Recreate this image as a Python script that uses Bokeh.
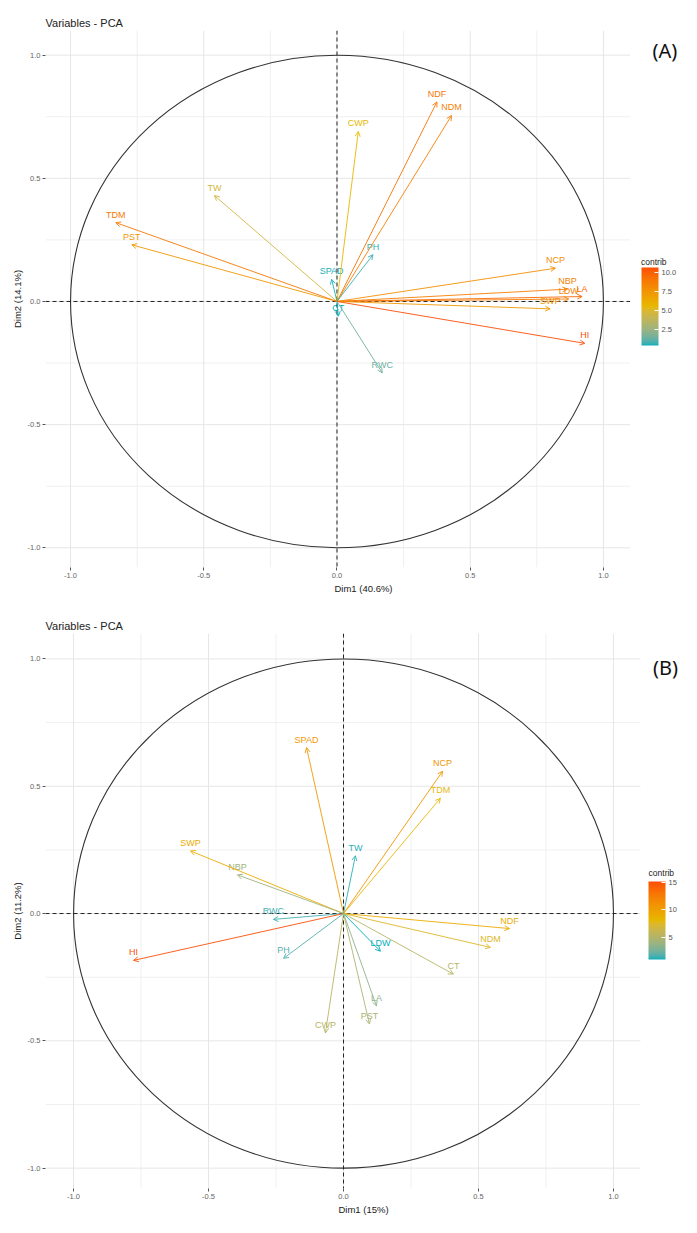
import math
from bokeh.plotting import figure
from bokeh.models import (ColumnDataSource, Span, Arrow, OpenHead, Label, ColorBar,
                          LinearColorMapper, FixedTicker, PrintfTickFormatter)
from bokeh.layouts import column
from bokeh.embed import file_html
from bokeh.resources import INLINE
from bokeh.core.properties import value

# ---------------- Data: panel (A) ----------------
vars_a = ["TW", "TDM", "PST", "SPAD", "CWP", "NDF", "NDM", "PH", "CT",
          "NCP", "NBP", "LA", "LDW", "SWP", "HI", "RWC"]
dim1_a = [-0.46, -0.83, -0.77, -0.02, 0.08, 0.375, 0.43, 0.135, 0.005,
          0.82, 0.865, 0.92, 0.87, 0.80, 0.93, 0.17]
dim2_a = [0.43, 0.32, 0.23, 0.09, 0.69, 0.81, 0.755, 0.19, -0.06,
          0.135, 0.05, 0.02, 0.01, -0.03, -0.17, -0.29]
contrib_a = [4.5, 9.0, 7.4, 0.4, 5.5, 9.1, 8.6, 0.6, 0.3,
             7.9, 8.6, 9.7, 8.7, 7.3, 10.7, 1.3]
xlab_a = "Dim1 (40.6%)"
ylab_a = "Dim2 (14.1%)"
cticks_a = [2.5, 5.0, 7.5, 10.0]

# ---------------- Data: panel (B) ----------------
vars_b = ["SPAD", "NCP", "TDM", "SWP", "NBP", "TW", "RWC", "HI", "PH",
          "LDW", "NDF", "NDM", "CT", "LA", "PST", "CWP"]
dim1_b = [-0.137, 0.367, 0.359, -0.567, -0.393, 0.044, -0.26, -0.778, -0.222,
          0.137, 0.615, 0.544, 0.407, 0.122, 0.096, -0.067]
dim2_b = [0.652, 0.559, 0.453, 0.246, 0.152, 0.227, -0.023, -0.184, -0.176,
          -0.148, -0.059, -0.133, -0.238, -0.363, -0.434, -0.469]
contrib_b = [10.6, 10.7, 8.0, 9.1, 4.2, 1.3, 1.6, 15.1, 1.9,
             1.1, 9.1, 7.5, 5.3, 3.5, 4.7, 5.4]
xlab_b = "Dim1 (15%)"
ylab_b = "Dim2 (11.2%)"
cticks_b = [5, 10, 15]

axis_ticks = [-1.0, -0.5, 0.0, 0.5, 1.0]
minor_ticks = [-0.75, -0.25, 0.25, 0.75]
gradient_cols = ["#00AFBB", "#E7B800", "#FC4E07"]

# panel extent in data units (the grid / axes region)
X_HI = 1.1
Y_LO, Y_HI = -1.08, 1.1


# ---------------- Lab-interpolated gradient (like ggplot2) ----------------
def _to_lin(c):
    c = c / 255.0
    return c / 12.92 if c <= 0.04045 else ((c + 0.055) / 1.055) ** 2.4


def _from_lin(c):
    c = 12.92 * c if c <= 0.0031308 else 1.055 * (c ** (1 / 2.4)) - 0.055
    return max(0, min(255, int(round(c * 255))))


_WX, _WY, _WZ = 0.95047, 1.0, 1.08883


def hex_to_lab(h):
    r, g, b = (_to_lin(int(h[i:i + 2], 16)) for i in (1, 3, 5))
    X = 0.4124 * r + 0.3576 * g + 0.1805 * b
    Y = 0.2126 * r + 0.7152 * g + 0.0722 * b
    Z = 0.0193 * r + 0.1192 * g + 0.9505 * b

    def f(t):
        return t ** (1 / 3) if t > 0.008856 else 7.787 * t + 16 / 116
    fx, fy, fz = f(X / _WX), f(Y / _WY), f(Z / _WZ)
    return (116 * fy - 16, 500 * (fx - fy), 200 * (fy - fz))


def lab_to_hex(L, a, b):
    fy = (L + 16) / 116
    fx = fy + a / 500
    fz = fy - b / 200

    def finv(t):
        return t ** 3 if t ** 3 > 0.008856 else (t - 16 / 116) / 7.787
    X, Y, Z = _WX * finv(fx), _WY * finv(fy), _WZ * finv(fz)
    r = 3.2406 * X - 1.5372 * Y - 0.4986 * Z
    g = -0.9689 * X + 1.8758 * Y + 0.0415 * Z
    bb = 0.0557 * X - 0.2040 * Y + 1.0570 * Z
    return "#%02x%02x%02x" % (_from_lin(max(r, 0)), _from_lin(max(g, 0)), _from_lin(max(bb, 0)))


def make_palette(cols, n=256):
    labs = [hex_to_lab(c) for c in cols]
    out = []
    for i in range(n):
        t = i / (n - 1) * (len(labs) - 1)
        k = min(int(t), len(labs) - 2)
        u = t - k
        l0, l1 = labs[k], labs[k + 1]
        out.append(lab_to_hex(*(l0[j] + (l1[j] - l0[j]) * u for j in range(3))))
    return out


PALETTE = make_palette(gradient_cols)


def color_of(v, lo, hi):
    idx = int(round((v - lo) / (hi - lo) * (len(PALETTE) - 1)))
    return PALETTE[max(0, min(len(PALETTE) - 1, idx))]


FONT = "Liberation Sans"


def make_panel(names, d1, d2, contrib, xlab, ylab, cticks, cfmt, tag, tag_xy,
               height, top, bottom, left, x_lo, x_right, cb_loc, cb_title_xy):
    lo, hi = min(contrib), max(contrib)
    colors = [color_of(c, lo, hi) for c in contrib]

    p = figure(width=681, height=height, x_range=(x_lo, x_right), y_range=(Y_LO, Y_HI),
               output_backend="svg", toolbar_location=None,
               min_border_left=left, min_border_right=0,
               min_border_top=top, min_border_bottom=bottom,
               title="Variables - PCA")
    p.background_fill_color = "white"
    p.border_fill_color = "white"
    p.outline_line_color = None
    p.xgrid.visible = False
    p.ygrid.visible = False

    p.title.text_font = FONT
    p.title.text_font_size = "11px"
    p.title.text_font_style = "normal"
    p.title.text_color = "#222222"
    p.title.align = "left"
    p.title.standoff = 4

    for ax, lab in ((p.xaxis[0], xlab), (p.yaxis[0], ylab)):
        ax.ticker = FixedTicker(ticks=axis_ticks)
        ax.formatter = PrintfTickFormatter(format="%.1f")
        ax.axis_label = lab
        ax.axis_label_text_font = FONT
        ax.axis_label_text_font_size = "9.5px"
        ax.axis_label_text_font_style = "normal"
        ax.axis_label_text_color = "#1a1a1a"
        ax.axis_label_standoff = 2
        ax.axis_line_color = None
        ax.major_tick_line_color = "#555555"
        ax.major_tick_in = 0
        ax.major_tick_out = 3
        ax.minor_tick_line_color = None
        ax.major_label_text_font = FONT
        ax.major_label_text_font_size = "7.5px"
        ax.major_label_text_color = "#666666"
        ax.major_label_standoff = 2
    p.xaxis[0].bounds = (x_lo, X_HI)

    # panel grid (major + minor), limited to the panel region
    p.segment(x0=minor_ticks, y0=Y_LO, x1=minor_ticks, y1=Y_HI,
              line_color="#f0f0f0", line_width=1)
    p.segment(x0=x_lo, y0=minor_ticks, x1=X_HI, y1=minor_ticks,
              line_color="#f0f0f0", line_width=1)
    p.segment(x0=axis_ticks, y0=Y_LO, x1=axis_ticks, y1=Y_HI,
              line_color="#e6e6e6", line_width=1)
    p.segment(x0=x_lo, y0=axis_ticks, x1=X_HI, y1=axis_ticks,
              line_color="#e6e6e6", line_width=1)

    # correlation circle
    p.ellipse(x=0, y=0, width=2, height=2, fill_color=None,
              line_color="#333333", line_width=1.1)

    # dashed reference lines
    p.segment(x0=x_lo, y0=0, x1=X_HI, y1=0, line_color="#222222",
              line_dash="4 3", line_width=1)
    p.add_layout(Span(location=0, dimension="height", line_color="#222222",
                      line_dash="4 3", line_width=1))

    for xi, yi, ci in zip(d1, d2, colors):
        p.add_layout(Arrow(end=OpenHead(size=5, line_color=ci, line_width=0.9),
                           x_start=0, y_start=0, x_end=xi, y_end=yi,
                           line_color=ci, line_width=0.9))

    src = ColumnDataSource(dict(x=d1, y=d2, name=names, color=colors))
    p.text(x="x", y="y", text="name", source=src, text_color="color",
           text_align="center", text_baseline="bottom", y_offset=-3,
           text_font_size="9px", text_font=value(FONT))

    mapper = LinearColorMapper(palette=PALETTE, low=lo, high=hi)
    cb = ColorBar(color_mapper=mapper, orientation="vertical",
                  ticker=FixedTicker(ticks=cticks),
                  formatter=PrintfTickFormatter(format=cfmt),
                  width=17, height=78, location=cb_loc,
                  padding=0, margin=0,
                  major_tick_line_color="white", major_tick_in=4, major_tick_out=0,
                  minor_tick_line_color=None, bar_line_color=None,
                  border_line_color=None, background_fill_color=None,
                  major_label_text_font=FONT, major_label_text_font_size="7.5px",
                  major_label_text_color="#555555", label_standoff=3)
    p.add_layout(cb)
    p.add_layout(Label(x=cb_title_xy[0], y=cb_title_xy[1], text="contrib",
                       text_align="left", text_baseline="middle", text_font=FONT,
                       text_font_size="8.5px", text_color="#222222"))

    p.add_layout(Label(x=tag_xy[0], y=tag_xy[1], text=tag, text_align="center",
                       text_baseline="middle", text_font="Noto Sans",
                       text_font_size="20px", text_color="#111111"))
    return p


pa = make_panel(vars_a, dim1_a, dim2_a, contrib_a, xlab_a, ylab_a, cticks_a, "%.1f",
                "(A)", (1.231, 1.019), height=596, top=30, bottom=28, left=45,
                x_lo=-1.094, x_right=1.293, cb_loc=(596, 222), cb_title_xy=(1.141, 0.161))
pb = make_panel(vars_b, dim1_b, dim2_b, contrib_b, xlab_b, ylab_b, cticks_b, "%d",
                "(B)", (1.193, 0.968), height=621, top=37, bottom=28, left=45,
                x_lo=-1.104, x_right=1.252, cb_loc=(603, 229), cb_title_xy=(1.13, 0.158))

layout = column(pa, pb, spacing=0)
open("out.html", "w").write(file_html(layout, INLINE))
